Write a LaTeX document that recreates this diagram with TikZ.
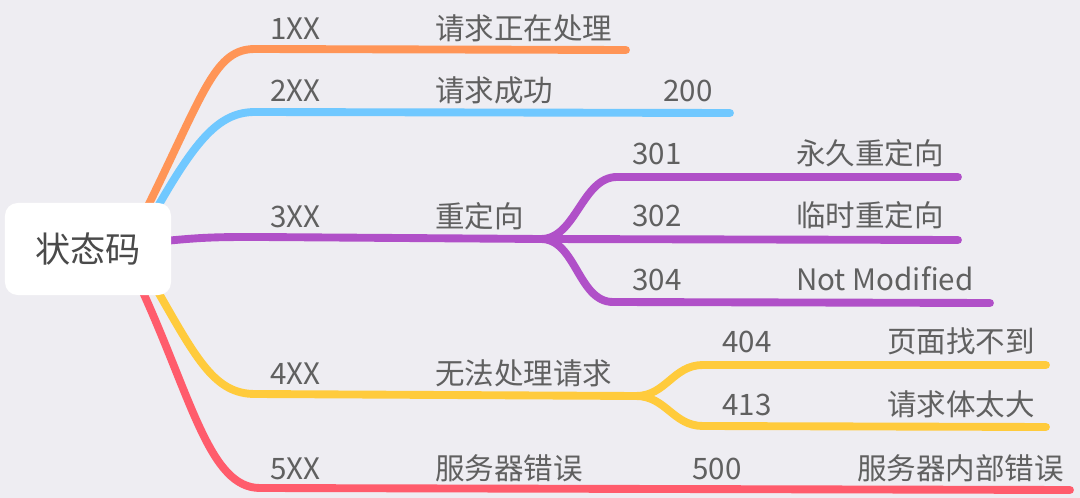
\documentclass[tikz,border=0pt]{standalone}
\usepackage{fontspec}
\setmainfont{Noto Sans CJK SC}
\definecolor{bgcol}{HTML}{EEEDF2}
\definecolor{textgray}{HTML}{606060}
\definecolor{rootgray}{HTML}{4A4A4A}
\definecolor{orangec}{HTML}{FF9557}
\definecolor{bluec}{HTML}{70C8FF}
\definecolor{purplec}{HTML}{B050C8}
\definecolor{yellowc}{HTML}{FFCB3C}
\definecolor{redc}{HTML}{FF5C6C}
\begin{document}
\begin{tikzpicture}
[x=0.025cm,y=-0.025cm,
  branchdecorate/.style={line width=5.6pt,line cap=round},%
  textdecorate/.style={anchor=base west,inner sep=0pt,text=textgray,font=\fontsize{21}{25}\selectfont},%
  rootdecorate/.style={fill=white,rounded corners=9pt,minimum width=4.15cm,minimum height=2.3cm,text=rootgray,font=\fontsize{25}{30}\selectfont}]
\fill[bgcol] (0,0) rectangle (1080,498);
% points on the branches
\coordinate (r1) at (147,208);
\coordinate (a1) at (255,49);
\coordinate (e1) at (626,50);
\coordinate (r2) at (157,208);
\coordinate (a2) at (255,112);
\coordinate (e2) at (730,113);
\coordinate (r3) at (165,241);
\coordinate (a3) at (260,237);
\coordinate (b3) at (541,239);
\coordinate (c31) at (617,177);
\coordinate (e31) at (958,177);
\coordinate (e32) at (958,240);
\coordinate (c34) at (613,302);
\coordinate (e34) at (990,303);
\coordinate (r4) at (157,290);
\coordinate (a4) at (255,394);
\coordinate (b4) at (636,396);
\coordinate (c44) at (703,365);
\coordinate (e44) at (1046,365);
\coordinate (c43) at (703,426);
\coordinate (e43) at (1046,427);
\coordinate (r5) at (142,290);
\coordinate (a5) at (260,488);
\coordinate (e5) at (1070,490);
% branches
\draw[branchdecorate,orangec] (r1) .. controls +(58,-118) and +(-40,0) .. (a1) -- (e1);
\draw[branchdecorate,bluec] (r2) .. controls +(40,-70) and +(-35,0) .. (a2) -- (e2);
\draw[branchdecorate,purplec] (r3) .. controls +(40,-4) and +(-40,0) .. (a3) -- (b3);
\draw[branchdecorate,purplec] (b3) .. controls +(35,0) and +(-35,0) .. (c31) -- (e31);
\draw[branchdecorate,purplec] (b3) -- (e32);
\draw[branchdecorate,purplec] (b3) .. controls +(35,0) and +(-35,0) .. (c34) -- (e34);
\draw[branchdecorate,yellowc] (r4) .. controls +(40,70) and +(-40,0) .. (a4) -- (b4);
\draw[branchdecorate,yellowc] (b4) .. controls +(30,0) and +(-30,0) .. (c44) -- (e44);
\draw[branchdecorate,yellowc] (b4) .. controls +(30,0) and +(-30,0) .. (c43) -- (e43);
\draw[branchdecorate,redc] (r5) .. controls +(50,110) and +(-50,0) .. (a5) -- (e5);
% root
\node (root) at (88,249) [rootdecorate] {状态码};
% labels
\node (l1) at (270,40) [textdecorate] {1XX};
\node (l1a) at (435,40) [textdecorate] {请求正在处理};
\node (l2) at (270,102) [textdecorate] {2XX};
\node (l2a) at (435,102) [textdecorate] {请求成功};
\node (l2b) at (663,102) [textdecorate] {200};
\node (l3) at (270,228) [textdecorate] {3XX};
\node (l3a) at (435,228) [textdecorate] {重定向};
\node (l31) at (632,165) [textdecorate] {301};
\node (l31a) at (796,165) [textdecorate] {永久重定向};
\node (l32) at (632,227) [textdecorate] {302};
\node (l32a) at (796,227) [textdecorate] {临时重定向};
\node (l34) at (632,291) [textdecorate] {304};
\node (l34a) at (796,291) [textdecorate] {Not Modified};
\node (l4) at (270,385) [textdecorate] {4XX};
\node (l4a) at (435,385) [textdecorate] {无法处理请求};
\node (l44) at (722,353) [textdecorate] {404};
\node (l44a) at (887,353) [textdecorate] {页面找不到};
\node (l43) at (722,415) [textdecorate] {413};
\node (l43a) at (887,415) [textdecorate] {请求体太大};
\node (l5) at (270,479) [textdecorate] {5XX};
\node (l5a) at (435,479) [textdecorate] {服务器错误};
\node (l5b) at (692,479) [textdecorate] {500};
\node (l5c) at (857,479) [textdecorate] {服务器内部错误};
\end{tikzpicture}
\end{document}
